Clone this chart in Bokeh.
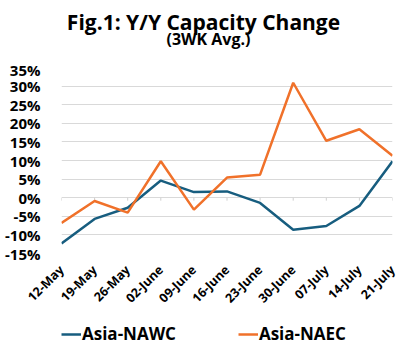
import math
from bokeh.plotting import figure
from bokeh.layouts import column
from bokeh.models import (Range1d, SingleIntervalTicker, FixedTicker, PrintfTickFormatter,
                          Legend, LegendItem, ColumnDataSource, Label)
from bokeh.embed import file_html
from bokeh.resources import INLINE

dates = ["12-May", "19-May", "26-May", "02-June", "09-June", "16-June",
         "23-June", "30-June", "07-July", "14-July", "21-July"]
nawc = [-12.3, -5.7, -2.7, 4.6, 1.5, 1.7, -1.4, -8.6, -7.6, -2.2, 9.8]
naec = [-6.8, -0.9, -4.0, 9.8, -3.2, 5.4, 6.2, 30.9, 15.3, 18.4, 11.3]
series_names = ["Asia-NAWC", "Asia-NAEC"]
colors = ["#175d7f", "#f0712a"]
title_text = "Fig.1: Y/Y Capacity Change"
subtitle_text = "(3WK Avg.)"

FONT = "Open Sans"
xs = list(range(len(dates)))
n = len(dates)
src = ColumnDataSource(dict(x=xs, nawc=nawc, naec=naec))

L, R = 61, 8          # shared frame borders (column aligns frames)
W = 400

# ---- title strip ----
TOP_H = 59
top = figure(width=W, height=TOP_H, output_backend="svg", toolbar_location=None, title=None,
             x_range=Range1d(L, W - R), y_range=Range1d(TOP_H, 8),
             x_axis_location=None, y_axis_location=None,
             min_border_left=L, min_border_right=R, min_border_top=8, min_border_bottom=0)
top.grid.visible = False
top.outline_line_color = None
top.add_layout(Label(x=203, y=21.8, text=title_text, text_align="center",
                     text_baseline="alphabetic", text_font=FONT, text_font_style="bold",
                     text_font_size="21px", text_color="black"))
top.add_layout(Label(x=208, y=38.5, text=subtitle_text, text_align="center",
                     text_baseline="alphabetic", text_font=FONT, text_font_style="bold",
                     text_font_size="16px", text_color="black"))

# ---- main chart ----
p = figure(width=W, height=256, output_backend="svg", toolbar_location=None,
           title=None, x_range=Range1d(0, n - 1), y_range=Range1d(-15, 35),
           min_border_left=L, min_border_right=R, min_border_top=8, min_border_bottom=58)
p.outline_line_color = None

p.yaxis.ticker = SingleIntervalTicker(interval=5)
p.yaxis.formatter = PrintfTickFormatter(format="%d%%")
p.yaxis.axis_line_color = None
p.yaxis.major_tick_line_color = None
p.yaxis.minor_tick_line_color = None
p.yaxis.major_label_standoff = 15
p.yaxis.major_label_text_font = FONT
p.yaxis.major_label_text_font_style = "bold"
p.yaxis.major_label_text_font_size = "15px"
p.yaxis.major_label_text_color = "black"

p.xaxis.ticker = FixedTicker(ticks=xs)
p.xaxis.major_label_overrides = {i: d for i, d in enumerate(dates)}
p.xaxis.major_label_orientation = math.pi / 4
p.xaxis.axis_line_color = None
p.xaxis.major_tick_line_color = None
p.xaxis.minor_tick_line_color = None
p.xaxis.major_label_standoff = 8
p.xaxis.major_label_text_font = FONT
p.xaxis.major_label_text_font_style = "bold"
p.xaxis.major_label_text_font_size = "12.5px"
p.xaxis.major_label_text_color = "black"

p.xgrid.grid_line_color = None
p.ygrid.grid_line_color = "#d9d9d9"
p.ygrid.grid_line_width = 1
p.ygrid.ticker = SingleIntervalTicker(interval=5)

# small tick marks on the zero line
p.segment(x0=xs, y0=[0] * n, x1=xs, y1=[-0.8] * n, line_color="#d0d0d0", line_width=1)

r1 = p.line("x", "nawc", source=src, line_color=colors[0], line_width=2.5)
r2 = p.line("x", "naec", source=src, line_color=colors[1], line_width=2.5)

# ---- legend strip ----
lg = figure(width=W, height=38, output_backend="svg", toolbar_location=None, title=None,
            x_range=Range1d(0, n - 1), y_range=Range1d(100, 101),
            x_axis_location=None, y_axis_location=None,
            min_border_left=L, min_border_right=R, min_border_top=0, min_border_bottom=0)
lg.grid.visible = False
lg.outline_line_color = None
d1 = lg.line("x", "nawc", source=src, line_color=colors[0], line_width=2.5)
d2 = lg.line("x", "naec", source=src, line_color=colors[1], line_width=2.5)
legend = Legend(items=[LegendItem(label=series_names[0], renderers=[d1]),
                       LegendItem(label=series_names[1], renderers=[d2])],
                orientation="horizontal", location=(0, 8),
                label_text_font=FONT, label_text_font_style="bold",
                label_text_font_size="17px", label_text_color="black",
                glyph_width=20, label_standoff=1, spacing=62,
                border_line_color=None, background_fill_alpha=0,
                padding=0, margin=0)
lg.add_layout(legend, "center")

layout = column(top, p, lg, spacing=0)
open("out.html", "w").write(file_html(layout, INLINE))
